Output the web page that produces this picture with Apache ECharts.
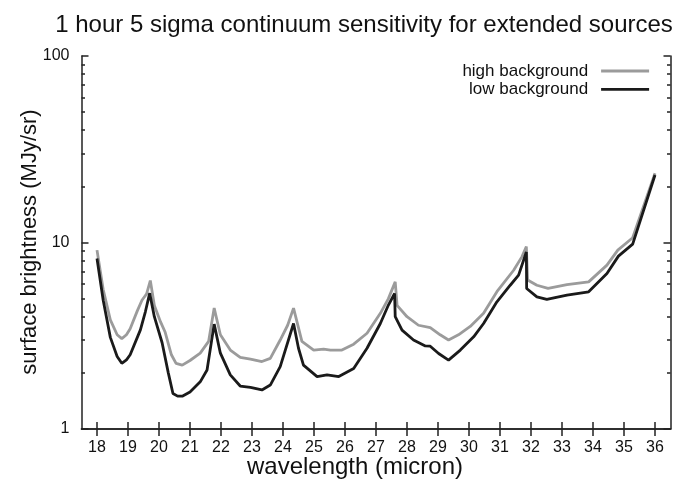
<!DOCTYPE html>
<html>
<head>
<meta charset="utf-8">
<script src="https://cdn.jsdelivr.net/npm/echarts@6/dist/echarts.min.js"></script>
<style>
html,body{margin:0;padding:0;background:#fff;}
#chart{width:686px;height:484px;}
</style>
</head>
<body>
<div id="chart"></div>
<script>
var xTicks = [18,19,20,21,22,23,24,25,26,27,28,29,30,31,32,33,34,35,36];
var yMajorTicks = [1,10,100];
var yMinorTicks = [2,3,4,5,6,7,8,9,20,30,40,50,60,70,80,90];

var wlHigh = [18.0,18.2,18.43,18.65,18.8,18.95,19.07,19.3,19.45,19.6,19.72,19.85,20.05,20.2,20.4,20.55,20.75,21.0,21.33,21.6,21.78,21.98,22.3,22.62,22.95,23.32,23.59,23.91,24.15,24.34,24.61,24.99,25.31,25.53,25.9,26.28,26.71,27.14,27.4,27.62,27.68,28.0,28.37,28.75,29.07,29.34,29.66,30.04,30.47,30.9,31.44,31.71,31.85,31.89,32.19,32.55,33.16,33.86,34.45,34.8,35.28,36.0];
var valHigh = [9.1,5.6,3.85,3.2,3.05,3.2,3.45,4.3,4.9,5.3,6.25,4.6,3.75,3.3,2.5,2.25,2.2,2.33,2.55,2.95,4.45,3.2,2.65,2.42,2.37,2.3,2.39,3.0,3.6,4.45,2.95,2.65,2.68,2.65,2.65,2.85,3.26,4.17,5.0,6.15,4.6,4.0,3.6,3.5,3.2,3.0,3.2,3.55,4.17,5.45,7.1,8.4,9.5,6.3,5.9,5.67,5.95,6.15,7.56,9.1,10.6,23.5];

var wlLow = [18.0,18.2,18.43,18.65,18.8,18.95,19.07,19.4,19.56,19.70,19.85,20.1,20.3,20.45,20.6,20.75,21.0,21.33,21.55,21.78,21.98,22.3,22.62,22.95,23.32,23.59,23.91,24.34,24.5,24.66,25.1,25.42,25.8,26.28,26.71,27.14,27.4,27.6,27.62,27.84,28.21,28.59,28.75,29.02,29.34,29.72,30.15,30.47,30.9,31.33,31.6,31.85,31.86,32.19,32.51,33.16,33.86,34.45,34.82,35.28,36.0];
var valLow = [8.2,4.9,3.1,2.45,2.25,2.35,2.5,3.4,4.25,5.35,4.0,2.9,2.0,1.55,1.5,1.5,1.58,1.79,2.07,3.65,2.55,1.95,1.70,1.67,1.62,1.72,2.16,3.68,2.71,2.2,1.91,1.95,1.91,2.11,2.71,3.68,4.62,5.33,4.0,3.39,3.0,2.79,2.78,2.54,2.34,2.65,3.12,3.68,4.81,5.9,6.68,8.9,5.67,5.11,4.95,5.22,5.44,6.82,8.45,9.8,23.0];

var seriesNames = ['high background','low background'];

function pairs(xs, ys){ return xs.map(function(x,i){ return [x, ys[i]]; }); }

var FONT = 'Liberation Sans, Arial, Helvetica, sans-serif';
var AX = '#222';
var chart = echarts.init(document.getElementById('chart'), null, {renderer:'canvas'});
var minorLog = yMinorTicks.map(function(v){ return Math.log10(v); });

var option = {
  animation: false,
  backgroundColor: '#fff',
  grid: {left: 81.5, right: 15.5, top: 56, bottom: 55, containLabel: false},
  legend: {
    orient: 'vertical', right: 30.5, top: 62.5, align: 'right', padding: [0, 5],
    itemWidth: 48, itemHeight: 14, itemGap: 1.3,
    itemStyle: {color: 'rgba(0,0,0,0)', borderWidth: 0, opacity: 0},
    lineStyle: {width: 2.8},
    textStyle: {fontFamily: FONT, fontSize: 17, color: '#111', padding: [0, 8, 0, 0]},
    data: seriesNames
  },
  graphic: [
    {type:'text', x: 364, y: 25, style:{text:'1 hour 5 sigma continuum sensitivity for extended sources', font:'24px ' + FONT, fill:'#111', textAlign:'center', textVerticalAlign:'middle'}},
    {type:'text', x: 355, y: 467, style:{text:'wavelength (micron)', font:'24px ' + FONT, fill:'#111', textAlign:'center', textVerticalAlign:'middle'}},
    {type:'text', x: 30, y: 242, rotation: Math.PI/2, style:{text:'surface brightness (MJy/sr)', font:'22px ' + FONT, fill:'#111', textAlign:'center', textVerticalAlign:'middle'}}
  ],
  xAxis: [
    {type:'value', min:17.5, max:36.5, position:'bottom',
     axisLine:{show:true, lineStyle:{color:AX, width:1.5}},
     axisTick:{show:true, inside:true, length:7, customValues: xTicks, lineStyle:{color:AX, width:1.5}},
     axisLabel:{show:true, customValues: xTicks, margin:11, fontFamily:FONT, fontSize:16, color:'#111'},
     splitLine:{show:false}},
    {type:'value', min:17.5, max:36.5, position:'top',
     axisLine:{show:true, lineStyle:{color:AX, width:1.5}},
     axisTick:{show:true, inside:true, length:7, customValues: xTicks, lineStyle:{color:AX, width:1.5}},
     axisLabel:{show:false}, splitLine:{show:false}}
  ],
  yAxis: [
    {type:'log', logBase:10, min:1, max:100, position:'left',
     axisLine:{show:true, lineStyle:{color:AX, width:1.5}},
     axisTick:{show:true, inside:true, length:7, lineStyle:{color:AX, width:1.5}},
     axisLabel:{show:true, margin:12, fontFamily:FONT, fontSize:16, color:'#111'},
     splitLine:{show:false}, minorTick:{show:false}},
    {type:'value', min:0, max:2, position:'left',
     axisLine:{show:false},
     axisTick:{show:true, inside:true, length:3.5, customValues: minorLog, lineStyle:{color:AX, width:1.5}},
     axisLabel:{show:false}, splitLine:{show:false}},
    {type:'log', logBase:10, min:1, max:100, position:'right',
     axisLine:{show:true, lineStyle:{color:AX, width:1.5}},
     axisTick:{show:true, inside:true, length:7, lineStyle:{color:AX, width:1.5}},
     axisLabel:{show:false}, splitLine:{show:false}},
    {type:'value', min:0, max:2, position:'right',
     axisLine:{show:false},
     axisTick:{show:true, inside:true, length:3.5, customValues: minorLog, lineStyle:{color:AX, width:1.5}},
     axisLabel:{show:false}, splitLine:{show:false}}
  ],
  series: [
    {name: seriesNames[0], type:'line', xAxisIndex:0, yAxisIndex:0, symbol:'none', smooth:false,
     data: pairs(wlHigh, valHigh), color:'#9b9b9b', lineStyle:{color:'#9b9b9b', width:2.8}},
    {name: seriesNames[1], type:'line', xAxisIndex:0, yAxisIndex:0, symbol:'none', smooth:false,
     data: pairs(wlLow, valLow), color:'#1a1a1a', lineStyle:{color:'#1a1a1a', width:2.8}}
  ]
};
chart.setOption(option);
</script>
</body>
</html>
